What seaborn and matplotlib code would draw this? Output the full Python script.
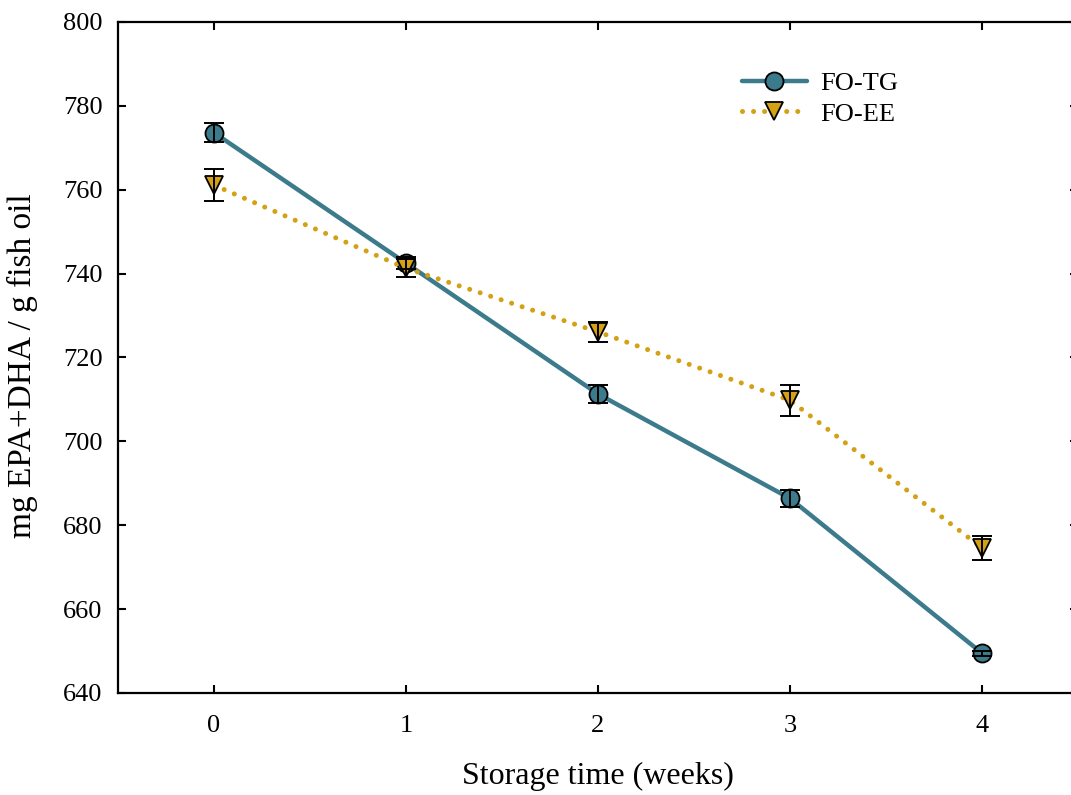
import matplotlib
matplotlib.use("Agg")
import matplotlib.pyplot as plt
import seaborn as sns
import pandas as pd

# Storage trial: EPA+DHA content of two fish-oil forms
weeks = [0, 1, 2, 3, 4]
tg_mean = [773.6, 742.5, 711.3, 686.4, 649.5]
tg_sd = [2.2, 1.5, 2.2, 2.0, 0.6]
ee_mean = [761.1, 741.3, 726.1, 709.8, 674.6]
ee_sd = [3.9, 2.2, 2.3, 3.7, 2.9]
series_names = ["FO-TG", "FO-EE"]
y_ticks = [640, 660, 680, 700, 720, 740, 760, 780, 800]

teal = "#3b7b8b"
gold = "#d4a114"

df = pd.DataFrame({
    "week": weeks * 2,
    "value": tg_mean + ee_mean,
    "series": [series_names[0]] * len(weeks) + [series_names[1]] * len(weeks),
})

sns.set_theme(style="ticks")
plt.rcParams["font.family"] = ["Liberation Serif", "DejaVu Serif"]
plt.rcParams["text.color"] = "black"
plt.rcParams["axes.labelcolor"] = "black"

fig = plt.figure(figsize=(10.71, 7.95), dpi=100)
ax = fig.add_axes([118 / 1071, 102 / 795, 960 / 1071, 671 / 795])

sns.lineplot(
    data=df, x="week", y="value", hue="series", style="series",
    palette={"FO-TG": teal, "FO-EE": gold},
    markers={"FO-TG": "o", "FO-EE": "v"},
    dashes={"FO-TG": "", "FO-EE": (0.01, 2.2)},
    markersize=13, markeredgecolor="black", markeredgewidth=1.3,
    linewidth=3.2, ax=ax, legend=True,
)
for ln in ax.lines:
    ln.set_dash_capstyle("round")
    ln.set_solid_capstyle("round")
# thicker dots for the ethyl-ester series
ax.lines[1].set_linewidth(3.6)

for mean, sd in [(tg_mean, tg_sd), (ee_mean, ee_sd)]:
    ax.errorbar(weeks, mean, yerr=sd, fmt="none", ecolor="black",
                elinewidth=1.4, capsize=7.5, capthick=1.4, zorder=5)

ax.set_xlim(-0.5, 4.5)
ax.set_ylim(640, 800)
ax.set_xticks(weeks)
ax.set_yticks(y_ticks)
ax.tick_params(axis="both", direction="in", length=6, width=1.5,
               top=True, right=True, labelsize=19, colors="black",
               labelcolor="black")
ax.tick_params(axis="x", pad=16)
ax.tick_params(axis="y", pad=11)
for sp in ax.spines.values():
    sp.set_linewidth(1.6)
    sp.set_color("black")

ax.set_xlabel("Storage time (weeks)", fontsize=23, labelpad=18)
ax.set_ylabel("mg EPA+DHA / g fish oil", fontsize=24)
ax.yaxis.set_label_coords((38 - 118) / 960, (693 - 366) / 671)

handles, labels = ax.get_legend_handles_labels()
for h in handles:
    h.set_dash_capstyle("round")
handles[1].set_linewidth(3.6)
ax.legend(handles, labels, loc="upper left", bbox_to_anchor=(742 / 1071, 1 - 72 / 795),
          bbox_transform=fig.transFigure, frameon=False, fontsize=19,
          handlelength=2.45, handletextpad=0.5, labelspacing=0.25,
          borderpad=0, borderaxespad=0)

fig.savefig("out.png", dpi=100)
